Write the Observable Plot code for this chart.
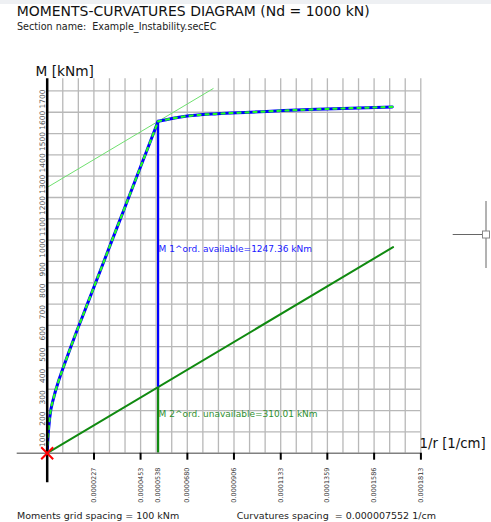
<!DOCTYPE html>
<html><head><meta charset="utf-8">
<script src="https://cdn.jsdelivr.net/npm/d3@7"></script>
<script src="https://cdn.jsdelivr.net/npm/@observablehq/plot@0.6"></script>
<style>
html,body{margin:0;padding:0;background:#fff;}
#chart{position:relative;width:491px;height:522px;}
#chart svg{display:block;}
</style></head><body>
<div id="chart"></div>
<script>
// ---- data ----
const titleText = "MOMENTS-CURVATURES DIAGRAM (Nd = 1000 kN)";
const subtitleText = "Section name:  Example_Instability.secEC";
const footerLeft = "Moments grid spacing = 100 kNm";
const footerRight = "Curvatures spacing  = 0.000007552 1/cm";

// moment-curvature diagram (curvature 1/cm, moment kNm)
const curvature = [0, 0.0000003, 0.00000126, 0.0000032, 0.00000563, 0.00000805, 0.0000113, 0.00001455,
  0.00001775, 0.0000218, 0.0000259, 0.0000291, 0.0000356, 0.0000437, 0.0000485, 0.0000538,
  0.0000663, 0.0000825, 0.0000986, 0.0001148, 0.000131, 0.0001471, 0.0001674];
const moment = [0, 60, 168, 262, 342, 409, 495, 578, 657, 758, 860, 940, 1102, 1304, 1424, 1557.37,
  1580, 1593, 1600, 1608, 1614, 1619, 1625];

// second order line and its parallel tangent
const secondOrderC = [0, 0.0001678];
const secondOrderM = [0, 967];
const tangentC = [0, 0.0000805];
const tangentM = [1247.36, 1711];

const curvAtMax = 0.0000538;
const mMax = 1557.37;
const mFirstAvail = 1247.36;
const mSecondUnavail = 310.01;

const xTickLabels = ["0.0000227", "0.0000453", "0.0000680", "0.0000906", "0.0001133", "0.0001359", "0.0001586", "0.0001813"];
const xSpecialLabel = "0.0000538";
const yTickLabels = [100, 200, 300, 400, 500, 600, 700, 800, 900, 1000, 1100, 1200, 1300, 1400, 1500, 1600, 1700];
const momentSpacing = 100;
const curvatureSpacing = 0.000007552;
const nCurvGrid = 24;

// ---- layout ----
const W = 491, H = 522;
const x0 = 46.7, xR = 420.3, y0 = 452.7, yT = 78.3;
const xMax = nCurvGrid * curvatureSpacing;
const yTop = 1757;
const cPerPx = xMax / (xR - x0);
const mPerPx = yTop / (y0 - yT);

const gridX = d3.range(1, nCurvGrid + 1).map(i => i * curvatureSpacing);
const gridY = yTickLabels;
// split the curve at its kink (peak) so each branch can be drawn smooth
const peakIdx = curvature.indexOf(curvAtMax);
const curveData = [];
curvature.forEach((c, i) => {
  if (i <= peakIdx) curveData.push({c, m: moment[i], seg: "pre"});
  if (i >= peakIdx) curveData.push({c, m: moment[i], seg: "post"});
});
const secData = secondOrderC.map((c, i) => ({c, m: secondOrderM[i]}));
const tanData = tangentC.map((c, i) => ({c, m: tangentM[i]}));

const gridColor = "#b8b8b8";

const svg = Plot.plot({
  width: W, height: H,
  marginLeft: x0, marginRight: W - xR, marginTop: yT, marginBottom: H - y0,
  x: {domain: [0, xMax], axis: null},
  y: {domain: [0, yTop], axis: null},
  style: {fontFamily: "DejaVu Sans", background: "white"},
  marks: [
    Plot.ruleX(gridX, {x: d => d, y1: 0, y2: yTop, stroke: gridColor, strokeWidth: 1.3}),
    Plot.ruleY(gridY, {y: d => d, x1: 0, x2: xMax, stroke: gridColor, strokeWidth: 1.3}),
    Plot.line(tanData, {x: "c", y: "m", stroke: "#6fe06f", strokeWidth: 1}),
    Plot.line(secData, {x: "c", y: "m", stroke: "#108a10", strokeWidth: 2}),
    Plot.ruleX([curvAtMax], {x: d => d, y1: mSecondUnavail, y2: mMax, stroke: "#0000ff", strokeWidth: 2.2}),
    Plot.ruleX([curvAtMax], {x: d => d, y1: 0, y2: mSecondUnavail, stroke: "#108a10", strokeWidth: 2.2}),
    Plot.line(curveData, {x: "c", y: "m", z: "seg", curve: "monotone-x", stroke: "#0000ff", strokeWidth: 3}),
    Plot.line(curveData, {x: "c", y: "m", z: "seg", curve: "monotone-x", stroke: "#22ff22", strokeWidth: 2.2, strokeDasharray: "3,5"}),
    // axes
    Plot.ruleY([0], {y: d => d, x1: -30 * cPerPx, x2: xMax, stroke: "#808080", strokeWidth: 1.6}),
    Plot.ruleX([0], {x: d => d, y1: -29.5 * mPerPx, y2: yTop, stroke: "#000", strokeWidth: 2.5}),
    Plot.ruleX(xTickLabels, {x: d => +d, y1: 0, y2: -7 * mPerPx, stroke: "#000", strokeWidth: 2}),
    Plot.text(xTickLabels, {x: d => +d, y: 0, text: d => d, rotate: -90, dy: 14.3, textAnchor: "end",
      lineAnchor: "middle", fontSize: 6.5, fill: "#333", ariaLabel: "x-tick-labels"}),
    Plot.text([xSpecialLabel], {x: d => +d, y: 0, text: d => d, rotate: -90, dy: 14.3, textAnchor: "end",
      lineAnchor: "middle", fontSize: 6.5, fill: "#333", ariaLabel: "x-tick-labels"}),
    Plot.text(yTickLabels, {x: 0, y: d => d, text: d => String(d), rotate: -90, dx: -4.5, dy: 8,
      textAnchor: "middle", lineAnchor: "middle", fontSize: 7.5, fill: "#555", ariaLabel: "y-tick-labels"}),
    // annotations
    Plot.text([`M 1^ord. available=${mFirstAvail.toFixed(2)} kNm`], {x: curvAtMax, y: (mMax + mSecondUnavail) / 2,
      text: d => d, textAnchor: "start", lineAnchor: "middle", dx: 0.5, dy: -5.6, fontSize: 9, fill: "#2020ff"}),
    Plot.text([`M 2^ord. unavailable=${mSecondUnavail.toFixed(2)} kNm`], {x: curvAtMax, y: mSecondUnavail / 2,
      text: d => d, textAnchor: "start", lineAnchor: "middle", dx: 0.5, dy: -5.6, fontSize: 9, fill: "#2f8f2f"}),
    Plot.dot([0], {x: 0, y: 0, symbol: "times", r: 5.5, stroke: "#ff0000", strokeWidth: 2})
  ]
});

const s = d3.select(svg);
s.selectAll('g[aria-label="x-tick-labels"] text').attr("textLength", 33).attr("lengthAdjust", "spacingAndGlyphs");
s.selectAll('g[aria-label="y-tick-labels"] text').each(function() {
  const t = d3.select(this);
  t.attr("textLength", t.text().length * 3.05).attr("lengthAdjust", "spacingAndGlyphs");
});

function addText(str, x, y, size, opts = {}) {
  const t = s.append("text").attr("x", x).attr("y", y).attr("font-size", size)
    .attr("font-family", "DejaVu Sans").attr("fill", opts.fill || "#111")
    .attr("text-anchor", "start")
    .attr("xml:space", "preserve").style("white-space", "pre").text(str);
  if (opts.len) t.attr("textLength", opts.len).attr("lengthAdjust", "spacingAndGlyphs");
  return t;
}
s.insert("rect", ":first-child").attr("x", 0).attr("y", 0).attr("width", W).attr("height", 4).attr("fill", "#eef0f3");
addText(titleText, 16.7, 15.7, 14.5, {len: 353});
addText(subtitleText, 17, 30, 9.6, {fill: "#222"});
addText("M [kNm]", 35.5, 76, 13.7);
addText("1/r [1/cm]", 419.5, 448.3, 13.3);
addText(footerLeft, 17, 519.3, 9.5, {fill: "#222"});
addText(footerRight, 236.7, 519.3, 9.5, {fill: "#222"});

// cursor crosshair at the right edge
s.append("line").attr("x1", 452.7).attr("x2", 483).attr("y1", 234.5).attr("y2", 234.5).attr("stroke", "#666");
s.append("line").attr("x1", 486).attr("x2", 486).attr("y1", 201).attr("y2", 231).attr("stroke", "#666");
s.append("line").attr("x1", 486).attr("x2", 486).attr("y1", 238).attr("y2", 268).attr("stroke", "#666");
s.append("rect").attr("x", 482.5).attr("y", 231).attr("width", 7).attr("height", 7).attr("fill", "none").attr("stroke", "#888");

document.getElementById("chart").appendChild(svg);
</script>
</body></html>
